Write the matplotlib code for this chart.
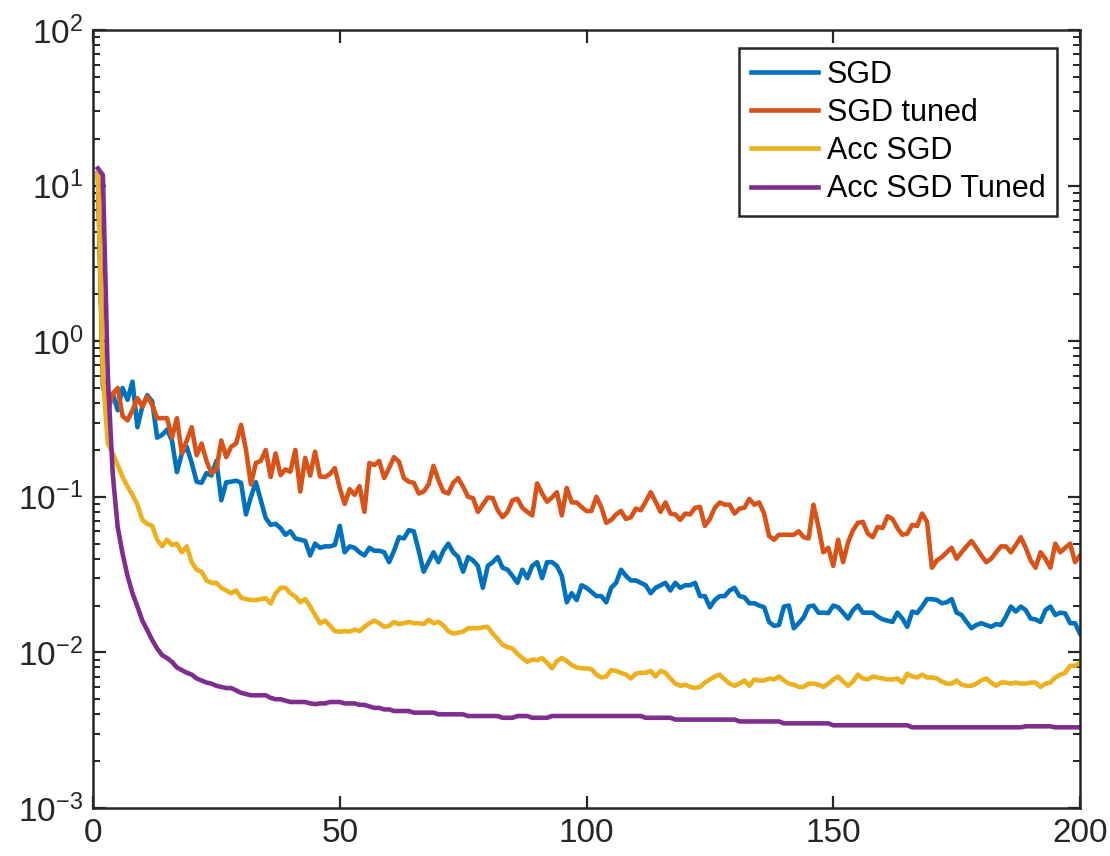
import numpy as np
import matplotlib
matplotlib.use("Agg")
import matplotlib.pyplot as plt
from matplotlib.ticker import LogLocator, NullFormatter, FixedLocator

plt.rcParams['font.family'] = ['Liberation Sans', 'DejaVu Sans']
plt.rcParams['mathtext.fontset'] = 'custom'
plt.rcParams['mathtext.rm'] = 'Liberation Sans'
plt.rcParams['mathtext.it'] = 'Liberation Sans:italic'
plt.rcParams['mathtext.bf'] = 'Liberation Sans:bold'
plt.rcParams['axes.unicode_minus'] = False

labels = ["SGD", "SGD tuned", "Acc SGD", "Acc SGD Tuned"]
colors = ["#0072BD", "#D95319", "#EDB120", "#7E2F8E"]

sgd = [
    12.0, 0.52, 0.38, 0.46, 0.36, 0.50, 0.42, 0.55, 0.28, 0.38,
    0.45, 0.41, 0.24, 0.25, 0.27, 0.23, 0.144, 0.19, 0.21, 0.165,
    0.125, 0.123, 0.142, 0.137, 0.17, 0.095, 0.124, 0.125, 0.127, 0.123,
    0.077, 0.10, 0.124, 0.095, 0.073, 0.066, 0.067, 0.063, 0.057, 0.060,
    0.054, 0.053, 0.052, 0.042, 0.050, 0.047, 0.048, 0.048, 0.049, 0.065,
    0.044, 0.048, 0.047, 0.044, 0.042, 0.047, 0.045, 0.045, 0.044, 0.038,
    0.045, 0.055, 0.054, 0.061, 0.060, 0.045, 0.033, 0.038, 0.044, 0.038,
    0.045, 0.050, 0.044, 0.041, 0.033, 0.041, 0.039, 0.036, 0.026, 0.036,
    0.038, 0.041, 0.035, 0.034, 0.031, 0.028, 0.034, 0.030, 0.036, 0.038,
    0.030, 0.038, 0.038, 0.036, 0.031, 0.021, 0.024, 0.0217, 0.027, 0.026,
    0.0245, 0.023, 0.023, 0.021, 0.026, 0.028, 0.034, 0.031, 0.029, 0.029,
    0.028, 0.027, 0.024, 0.026, 0.027, 0.028, 0.025, 0.028, 0.026, 0.027,
    0.027, 0.028, 0.023, 0.023, 0.0195, 0.0217, 0.023, 0.023, 0.025, 0.026,
    0.023, 0.0226, 0.0207, 0.0207, 0.020, 0.0195, 0.0157, 0.0148, 0.015, 0.0197,
    0.020, 0.0143, 0.0154, 0.0168, 0.0197, 0.020, 0.018, 0.018, 0.0179, 0.020,
    0.0195, 0.018, 0.0165, 0.0187, 0.020, 0.018, 0.018, 0.018, 0.017, 0.0163,
    0.016, 0.0157, 0.018, 0.0165, 0.0146, 0.0183, 0.0179, 0.0197, 0.022, 0.022,
    0.0217, 0.0207, 0.021, 0.022, 0.018, 0.0174, 0.0157, 0.0143, 0.015, 0.0154,
    0.015, 0.0146, 0.0152, 0.015, 0.017, 0.0197, 0.0183, 0.0197, 0.0187, 0.0165,
    0.0163, 0.0157, 0.0187, 0.0197, 0.0174, 0.018, 0.0178, 0.0154, 0.0154, 0.0132,
]

sgd_tuned = [
    12.0, 0.58, 0.35, 0.46, 0.50, 0.33, 0.31, 0.36, 0.43, 0.38,
    0.44, 0.39, 0.32, 0.32, 0.32, 0.24, 0.32, 0.19, 0.23, 0.28,
    0.185, 0.22, 0.17, 0.142, 0.15, 0.23, 0.18, 0.21, 0.22, 0.29,
    0.20, 0.12, 0.165, 0.17, 0.20, 0.134, 0.19, 0.138, 0.15, 0.145,
    0.20, 0.108, 0.178, 0.137, 0.195, 0.135, 0.134, 0.14, 0.153, 0.114,
    0.09, 0.112, 0.103, 0.117, 0.08, 0.165, 0.16, 0.17, 0.132, 0.153,
    0.18, 0.168, 0.132, 0.125, 0.123, 0.105, 0.108, 0.12, 0.158, 0.128,
    0.108, 0.105, 0.123, 0.132, 0.116, 0.10, 0.098, 0.08, 0.089, 0.099,
    0.098, 0.082, 0.074, 0.08, 0.095, 0.097, 0.085, 0.08, 0.076, 0.122,
    0.105, 0.093, 0.099, 0.107, 0.076, 0.114, 0.092, 0.092, 0.086, 0.081,
    0.081, 0.10, 0.086, 0.068, 0.071, 0.077, 0.081, 0.072, 0.074, 0.084,
    0.082, 0.093, 0.107, 0.093, 0.08, 0.092, 0.078, 0.077, 0.071, 0.078,
    0.077, 0.085, 0.086, 0.065, 0.072, 0.085, 0.092, 0.089, 0.089, 0.078,
    0.084, 0.085, 0.097, 0.089, 0.092, 0.078, 0.056, 0.053, 0.057, 0.057,
    0.057, 0.057, 0.06, 0.055, 0.054, 0.089, 0.064, 0.044, 0.047, 0.036,
    0.053, 0.038, 0.051, 0.061, 0.068, 0.069, 0.058, 0.055, 0.064, 0.063,
    0.075, 0.072, 0.063, 0.057, 0.058, 0.066, 0.065, 0.078, 0.069, 0.035,
    0.039, 0.041, 0.044, 0.047, 0.04, 0.044, 0.048, 0.052, 0.047, 0.042,
    0.038, 0.04, 0.044, 0.048, 0.048, 0.044, 0.049, 0.055, 0.047, 0.039,
    0.035, 0.044, 0.04, 0.035, 0.05, 0.044, 0.047, 0.05, 0.038, 0.042,
]

acc_sgd = [
    12.0, 0.6, 0.22, 0.19, 0.16, 0.134, 0.116, 0.103, 0.089, 0.071,
    0.067, 0.065, 0.053, 0.048, 0.053, 0.049, 0.050, 0.044, 0.048, 0.038,
    0.034, 0.033, 0.029, 0.028, 0.028, 0.026, 0.025, 0.024, 0.025, 0.0225,
    0.022, 0.0217, 0.0217, 0.022, 0.0223, 0.0206, 0.024, 0.026, 0.026, 0.024,
    0.0228, 0.021, 0.022, 0.0197, 0.0174, 0.0154, 0.016, 0.0149, 0.0137, 0.0136,
    0.0137, 0.0136, 0.014, 0.0137, 0.0146, 0.0154, 0.016, 0.0154, 0.0146, 0.0148,
    0.0157, 0.0152, 0.0154, 0.0157, 0.0154, 0.0154, 0.0152, 0.0162, 0.0154, 0.0157,
    0.0149, 0.0137, 0.0132, 0.0134, 0.0136, 0.0143, 0.0143, 0.0143, 0.0145, 0.0146,
    0.0132, 0.0122, 0.0112, 0.0108, 0.0106, 0.0098, 0.0092, 0.0087, 0.009, 0.0089,
    0.0092, 0.0086, 0.0079, 0.0088, 0.0092, 0.0088, 0.0083, 0.008, 0.0079, 0.0079,
    0.0078, 0.0072, 0.0069, 0.007, 0.0077, 0.0076, 0.0074, 0.0072, 0.0068, 0.0073,
    0.0074, 0.0074, 0.0076, 0.007, 0.0076, 0.0074, 0.0068, 0.0063, 0.0061, 0.0062,
    0.006, 0.0059, 0.006, 0.0064, 0.0067, 0.007, 0.0072, 0.0067, 0.0063, 0.0061,
    0.0063, 0.0066, 0.0061, 0.0067, 0.0066, 0.0066, 0.0068, 0.0067, 0.007, 0.0066,
    0.0063, 0.0062, 0.006, 0.006, 0.0063, 0.0063, 0.0062, 0.006, 0.0063, 0.0067,
    0.007, 0.0065, 0.0061, 0.0065, 0.0072, 0.0068, 0.0067, 0.007, 0.0069, 0.0068,
    0.0067, 0.0067, 0.0068, 0.0064, 0.0073, 0.007, 0.0069, 0.0072, 0.0069, 0.0069,
    0.0068, 0.0065, 0.0063, 0.0063, 0.0066, 0.0062, 0.0061, 0.0061, 0.0063, 0.0066,
    0.0068, 0.0064, 0.0061, 0.0064, 0.0064, 0.0063, 0.0064, 0.0063, 0.0063, 0.0064,
    0.0064, 0.006, 0.0063, 0.0064, 0.0069, 0.0072, 0.0074, 0.0082, 0.0082, 0.0086,
]

acc_sgd_tuned = [
    12.9, 11.7, 0.6, 0.14, 0.064, 0.043, 0.031, 0.024, 0.0197, 0.016,
    0.0139, 0.012, 0.0106, 0.0096, 0.0092, 0.0087, 0.0080, 0.0077, 0.0074, 0.0072,
    0.0068, 0.0066, 0.0064, 0.0063, 0.0061, 0.0060, 0.0059, 0.0059, 0.0057, 0.0055,
    0.0054, 0.0053, 0.0053, 0.0053, 0.0053, 0.0051, 0.0050, 0.0050, 0.0049, 0.0048,
    0.0048, 0.0048, 0.0048, 0.0047, 0.00465, 0.0047, 0.0047, 0.0048, 0.0048, 0.0048,
    0.0047, 0.0047, 0.0047, 0.0046, 0.0046, 0.0045, 0.0044, 0.0044, 0.0043, 0.0043,
    0.0042, 0.0042, 0.0042, 0.0042, 0.0041, 0.0041, 0.0041, 0.0041, 0.0041, 0.0040,
    0.0040, 0.0040, 0.0040, 0.0040, 0.0040, 0.0039, 0.0039, 0.0039, 0.0039, 0.0039,
    0.0039, 0.0039, 0.0038, 0.0038, 0.0038, 0.0039, 0.0039, 0.0039, 0.0038, 0.0038,
    0.0038, 0.0038, 0.0039, 0.0039, 0.0039, 0.0039, 0.0039, 0.0039, 0.0039, 0.0039,
    0.0039, 0.0039, 0.0039, 0.0039, 0.0039, 0.0039, 0.0039, 0.0039, 0.0039, 0.0039,
    0.0039, 0.0038, 0.0038, 0.0038, 0.0038, 0.0038, 0.0038, 0.0037, 0.0037, 0.0037,
    0.0037, 0.0037, 0.0037, 0.0037, 0.0037, 0.0037, 0.0037, 0.0037, 0.0037, 0.0037,
    0.0036, 0.0036, 0.0036, 0.0036, 0.0036, 0.0036, 0.0036, 0.0036, 0.0036, 0.0035,
    0.0035, 0.0035, 0.0035, 0.0035, 0.0035, 0.0035, 0.0035, 0.0035, 0.0035, 0.0034,
    0.0034, 0.0034, 0.0034, 0.0034, 0.0034, 0.0034, 0.0034, 0.0034, 0.0034, 0.0034,
    0.0034, 0.0034, 0.0034, 0.0034, 0.0034, 0.0033, 0.0033, 0.0033, 0.0033, 0.0033,
    0.0033, 0.0033, 0.0033, 0.0033, 0.0033, 0.0033, 0.0033, 0.0033, 0.0033, 0.0033,
    0.0033, 0.0033, 0.0033, 0.0033, 0.0033, 0.0033, 0.0033, 0.0033, 0.00335, 0.00335,
    0.00335, 0.00335, 0.00335, 0.00335, 0.0033, 0.0033, 0.0033, 0.0033, 0.0033, 0.0033,
]

iters = np.arange(1, len(sgd) + 1)
series = [sgd, sgd_tuned, acc_sgd, acc_sgd_tuned]

fig = plt.figure(figsize=(11.1, 8.56), dpi=100)
ax = fig.add_axes([93/1110, 1 - 808/856, (1080-93)/1110, (808-30)/856])

for vals, lab, col in zip(series, labels, colors):
    ax.plot(iters, vals, color=col, lw=3.3, label=lab, solid_joinstyle='round')

ax.set_yscale('log')
ax.set_xlim(0, 200)
ax.set_ylim(1e-3, 1e2)
ax.xaxis.set_major_locator(FixedLocator([0, 50, 100, 150, 200]))
ax.yaxis.set_major_locator(LogLocator(base=10, numticks=20))
ax.yaxis.set_minor_locator(LogLocator(base=10, subs=np.arange(2, 10), numticks=20))
ax.yaxis.set_minor_formatter(NullFormatter())

axcol = '#262626'
for sp in ax.spines.values():
    sp.set_linewidth(1.8)
    sp.set_color(axcol)
ax.tick_params(which='both', direction='in', top=True, right=True, colors=axcol,
               labelcolor=axcol)
ax.tick_params(which='major', length=9, width=1.6, labelsize=24, pad=7)
ax.tick_params(which='minor', length=5, width=1.4)

leg = ax.legend(loc='upper right', bbox_to_anchor=(0.977, 0.977), borderaxespad=0,
                fontsize=22, fancybox=False, framealpha=1, edgecolor=axcol,
                handlelength=2.2, handletextpad=0.3, labelspacing=0.27,
                borderpad=0.38)
leg.get_frame().set_linewidth(1.8)

fig.savefig('out.png', dpi=100)
